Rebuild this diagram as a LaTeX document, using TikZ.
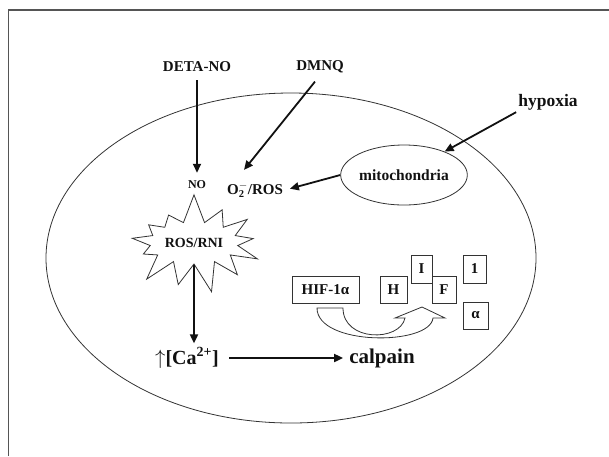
\documentclass[tikz,border=0pt]{standalone}
\usepackage{fontspec}
\setmainfont{Liberation Serif}
\usepackage{tikz}
\usetikzlibrary{arrows.meta,shapes.geometric,shapes.symbols}
\definecolor{frame}{HTML}{555555}
\definecolor{cell}{HTML}{333333}
\definecolor{ink}{HTML}{111111}
\tikzset{
  lab/.style={text=ink, font=\fontsize{15}{18}\selectfont\bfseries, inner sep=2pt},
  labs/.style={text=ink, font=\fontsize{12}{14}\selectfont\bfseries, inner sep=2pt},
  labb/.style={text=ink, font=\fontsize{21}{24}\selectfont\bfseries, inner sep=2pt},
  arr/.style={draw=ink, line width=1.8pt, -{Triangle[length=9pt,width=8pt]}},
  thinl/.style={draw=cell, line width=0.8pt},
  letbox/.style={thinl, fill=white, lab, minimum height=27pt, inner sep=0pt},
}
\begin{document}
\begin{tikzpicture}[x=1pt,y=-1pt]
\useasboundingbox (0,0) rectangle (609,456);
\draw[frame, line width=1.5pt] (8.5,456) -- (8.5,10) -- (609,10);
% cell
\draw[thinl] (291,258) ellipse [x radius=245pt, y radius=165pt];

\node[lab] (deta) at (197,67) {DETA-NO};
\node[lab] (dmnq) at (320,67) {DMNQ};
\node[lab, font=\fontsize{17.5}{20}\selectfont\bfseries] (hypoxia) at (548,102) {hypoxia};
\node[thinl, ellipse, lab, font=\fontsize{15.5}{18}\selectfont\bfseries, minimum width=110pt, minimum height=60pt, inner sep=0pt] (mito) at (404,175) {mitochondria};
\node[labs] (no) at (197,185) {NO};
\node[lab] (o2ros) at (255,190) {O$_{\mathbf{2}}^{-}$/ROS};
\node[thinl, starburst, starburst points=13, starburst point height=30pt, random starburst=7, minimum width=120pt, minimum height=102pt, lab, font=\fontsize{14}{16}\selectfont\bfseries] (rosrni) at (194,243) {ROS/RNI};
\node[labb, font=\fontsize{20}{24}\selectfont\bfseries] (ca) at (187,358) {$\uparrow$[Ca\textsuperscript{2+}]};
\node[labb] (calpain) at (382,358) {calpain};

\draw[arr, shorten <=6pt, shorten >=6pt] (deta) -- (no);
\draw[arr, shorten <=8pt] (dmnq.south) -- ([xshift=-11pt,yshift=10pt]o2ros.north);
\draw[arr] (hypoxia.south west) -- (mito.30);
\draw[arr, shorten >=5pt] (mito.west) -- (o2ros.east);
\draw[arr, shorten >=2pt] (rosrni.south) -- (rosrni.south |- ca.north);
\draw[arr, shorten <=8pt, shorten >=4pt] (ca.east) -- (calpain.west);

% HIF-1 alpha
\node[letbox, minimum width=67pt] (hif) at (325.5,289.5) {HIF-1α};
\draw[thinl] (317,308) .. controls (317,346) and (430,346) .. (433,318) -- (445,318) -- (422,307) -- (395,318) -- (405,318) .. controls (400,342) and (343,342) .. (343,308) -- cycle;
\node[letbox, minimum width=27pt] (lH) at (393.5,289.5) {H};
\node[letbox, minimum width=21pt, minimum height=28pt] (lI) at (421.5,269) {I};
\node[letbox, minimum width=24pt] (lF) at (444,289.5) {F};
\node[letbox, minimum width=23pt, minimum height=28pt] (l1) at (474.5,269) {1};
\node[letbox, minimum width=25pt] (la) at (475.5,315.5) {α};
\end{tikzpicture}
\end{document}
